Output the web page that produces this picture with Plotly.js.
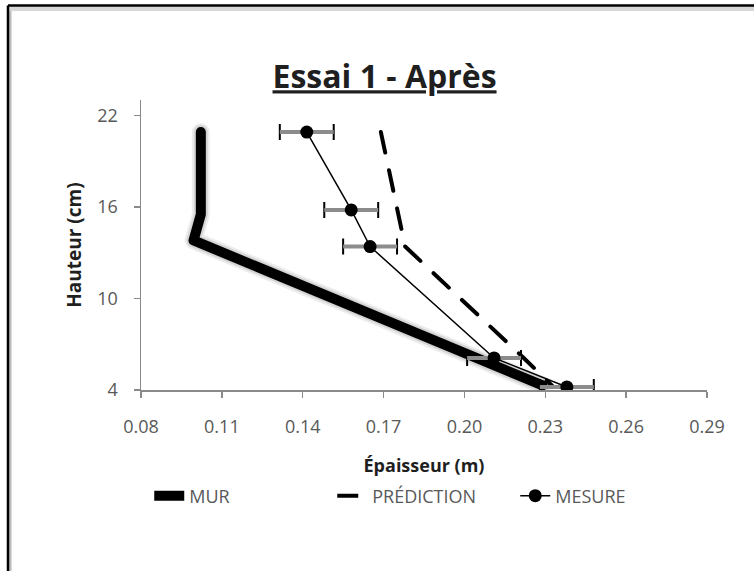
<!DOCTYPE html>
<html>
<head>
<meta charset="utf-8">
<script src="https://cdn.plot.ly/plotly-3.0.1.min.js"></script>
<style>
html,body{margin:0;padding:0;background:#fff;}
#chart{width:754px;height:571px;}
.scatterlayer path.js-line{stroke-linejoin:round;stroke-linecap:round;}
</style>
</head>
<body>
<div id="chart"></div>
<script>
// Data
const murX = [0.1022, 0.1022, 0.0995, 0.229];
const murY = [20.9, 15.5, 13.8, 4.3];

const hauteurs = [20.9, 15.8, 13.4, 6.1, 4.2];
const predictionX = [0.169, 0.175, 0.178, 0.222, 0.233];
const mesureX = [0.1415, 0.158, 0.165, 0.211, 0.238];
const mesureErr = [0.01, 0.01, 0.01, 0.01, 0.01];

const xTicks = [0.08, 0.11, 0.14, 0.17, 0.20, 0.23, 0.26, 0.29];
const yTicks = [4, 10, 16, 22];

const FONT = '"Open Sans", "Noto Sans", sans-serif';
const GREY = '#595959';

const traces = [
  // soft shadow under the wall line
  {x: murX, y: murY, mode: 'lines', hoverinfo: 'skip', showlegend: false,
   line: {color: 'rgba(0,0,0,0.07)', width: 18}},
  {x: murX, y: murY, mode: 'lines', hoverinfo: 'skip', showlegend: false,
   line: {color: 'rgba(0,0,0,0.10)', width: 14}},
  {x: murX, y: murY, mode: 'lines', name: 'MUR',
   line: {color: '#000', width: 10}},
  {x: predictionX, y: hauteurs, mode: 'lines', name: 'PRÉDICTION',
   line: {color: '#000', width: 4, dash: '21px,18px'}},
  // error bar caps (black)
  {x: mesureX, y: hauteurs, mode: 'markers', hoverinfo: 'skip', showlegend: false,
   marker: {size: 1, opacity: 0},
   error_x: {type: 'data', array: mesureErr, visible: true, color: '#000', thickness: 2, width: 8}},
  // error bar body (grey)
  {x: mesureX, y: hauteurs, mode: 'markers', hoverinfo: 'skip', showlegend: false,
   marker: {size: 1, opacity: 0},
   error_x: {type: 'data', array: mesureErr, visible: true, color: '#8c8c8c', thickness: 4, width: 0}},
  {x: mesureX, y: hauteurs, mode: 'lines+markers', name: 'MESURE',
   line: {color: '#000', width: 1.5},
   marker: {color: '#000', size: 13}}
];

const layout = {
  width: 754, height: 571,
  margin: {l: 141, r: 47, t: 100, b: 181},
  paper_bgcolor: '#fff', plot_bgcolor: '#fff',
  font: {family: FONT, color: GREY, size: 18},
  title: {
    text: '<b><u>Essai 1 - Après</u></b>',
    font: {family: FONT, size: 32, color: '#1f1f1f'},
    xref: 'container', yref: 'container', x: 0.51, y: 0.865,
    xanchor: 'center', yanchor: 'middle'
  },
  xaxis: {
    range: [0.08, 0.29], tickvals: xTicks, tickformat: '.2f',
    showgrid: false, zeroline: false,
    showline: true, linecolor: '#8a8a8a', linewidth: 1.5,
    ticks: 'outside', ticklen: 6, tickcolor: '#8a8a8a', tickwidth: 1.5,
    tickfont: {family: FONT, size: 18, color: GREY},
    ticklabelstandoff: 14,
    title: {text: '<b>Épaisseur (m)</b>', font: {family: FONT, size: 18, color: '#1f1f1f'}, standoff: 32}
  },
  yaxis: {
    range: [4, 23], tickvals: yTicks,
    showgrid: false, zeroline: false,
    showline: true, linecolor: '#8a8a8a', linewidth: 1.5,
    ticks: 'outside', ticklen: 6, tickcolor: '#8a8a8a', tickwidth: 1.5,
    tickfont: {family: FONT, size: 18, color: GREY},
    ticklabelstandoff: 12,
    title: {text: '<b>Hauteur (cm)</b>', font: {family: FONT, size: 19, color: '#1f1f1f'}, standoff: 10}
  },
  legend: {
    orientation: 'h', xref: 'container', yref: 'container',
    x: 0.562, xanchor: 'center', y: 1 - 496/571, yanchor: 'middle',
    font: {family: FONT, size: 18, color: GREY},
    entrywidth: 138, entrywidthmode: 'pixels', itemgap: 0, tracegroupgap: 0
  },
  shapes: [
    {type: 'line', xref: 'paper', yref: 'paper', x0: -0.2314, x1: -0.2314, y0: -1, y1: 1.3259,
     line: {color: '#bdbdbd', width: 3}},
    {type: 'line', xref: 'paper', yref: 'paper', x0: -0.2332, x1: 2, y0: 1.3155, y1: 1.3155,
     line: {color: '#d6d6d6', width: 5}},
    {type: 'line', xref: 'paper', yref: 'paper', x0: -0.2350, x1: -0.2350, y0: -1, y1: 1.3259,
     line: {color: '#000', width: 2.5}},
    {type: 'line', xref: 'paper', yref: 'paper', x0: -0.2350, x1: 2, y0: 1.3259, y1: 1.3259,
     line: {color: '#000', width: 2.5}}
  ],
  showlegend: true
};

Plotly.newPlot('chart', traces, layout, {displayModeBar: false, staticPlot: true});
</script>
</body>
</html>
